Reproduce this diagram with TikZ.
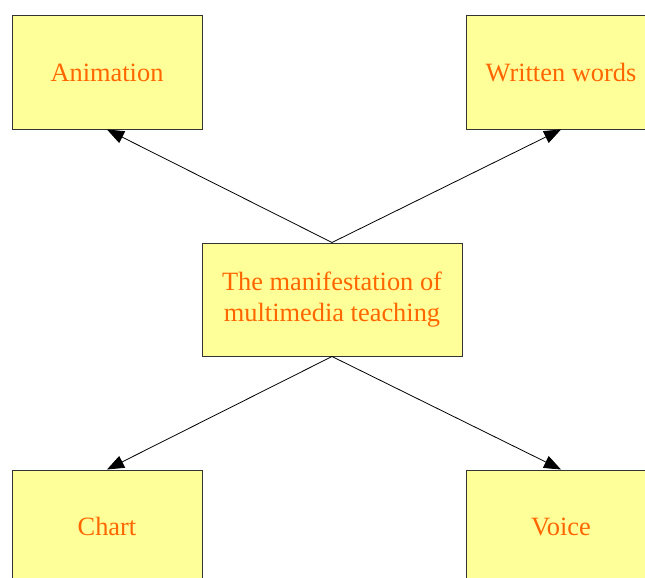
\documentclass[tikz,border=0pt]{standalone}
\usepackage{fontspec}
\setmainfont{Liberation Serif}
\usetikzlibrary{arrows.meta}
\definecolor{boxfill}{HTML}{FFFF99}
\definecolor{txtorange}{HTML}{FF6600}
\definecolor{boxline}{HTML}{333333}
\begin{document}
\begin{tikzpicture}[x=1pt,y=-1pt,
  boxstyle/.style={draw=boxline,line width=1pt,fill=boxfill,minimum width=190pt,minimum height=113pt,inner sep=0pt,
    text=txtorange,font=\fontsize{26.4}{31}\selectfont,align=center},
  conn/.style={line width=0.8pt,-{Triangle[length=17pt,width=13pt]}}]
\useasboundingbox (0,0) rectangle (645,578);
\node[boxstyle] (anim) at (107,72.5) {Animation};
\node[boxstyle] (words) at (561,72.5) {Written words};
\node[boxstyle,minimum width=260pt] (center) at (332,299.5) {The manifestation of\\multimedia teaching};
\node[boxstyle] (chart) at (107,526.5) {Chart};
\node[boxstyle] (voice) at (561,526.5) {Voice};
\draw[conn] (center.north) -- (anim.south);
\draw[conn] (center.north) -- (words.south);
\draw[conn] (center.south) -- (chart.north);
\draw[conn] (center.south) -- (voice.north);
\end{tikzpicture}
\end{document}
